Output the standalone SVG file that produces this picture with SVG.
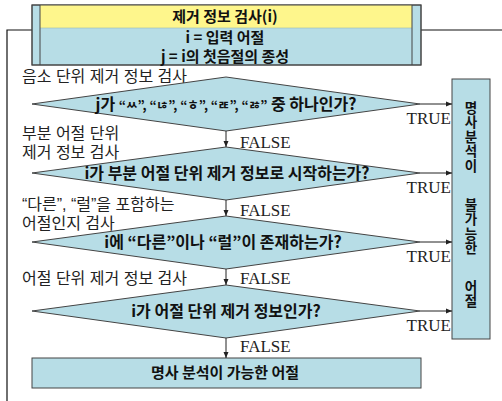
<svg xmlns="http://www.w3.org/2000/svg" width="502" height="401" viewBox="0 0 502 401">
<defs>
<marker id="ah" markerWidth="6" markerHeight="6" refX="6" refY="3" orient="auto" markerUnits="userSpaceOnUse">
<path d="M0,0.5 L6,3 L0,5.5 z" fill="#222"/>
</marker>
<style>
.box{fill:#b7dde6;stroke:#444;stroke-width:1}
.dia{fill:#b7dde6;stroke:#444;stroke-width:1}
.frame{fill:none;stroke:#111;stroke-width:1.2}
.conn{stroke:#222;stroke-width:1;fill:none;marker-end:url(#ah)}
.kb{font-family:"Noto Sans CJK KR","Noto Sans",sans-serif;font-weight:bold;font-size:15px;fill:#111;text-anchor:middle}
.kd{font-size:16px}
.vt{font-family:"Noto Sans CJK KR","Noto Sans",sans-serif;font-weight:bold;font-size:13.5px;fill:#111;writing-mode:vertical-rl;text-orientation:upright;letter-spacing:1px}
.lab{font-family:"Liberation Sans","Noto Sans CJK KR",sans-serif;font-size:16px;fill:#222}
.tf{font-family:"Liberation Serif",serif;font-size:17px;fill:#222}
.jm{font-size:12.5px}
</style>
</defs>
<rect width="502" height="401" fill="#ffffff"/>
<g id="frame">
<path class="frame" d="M7,401 V30 H32 M421,30 H502"/>
</g>
<g id="header">
<rect class="box" x="32" y="5" width="389" height="60"/>
<rect x="40" y="5" width="372" height="23" fill="#fef68c"/>
<line x1="40" y1="28" x2="412" y2="28" stroke="#9bb" stroke-width="0.6"/>
<line x1="40" y1="5" x2="40" y2="65" stroke="#444"/>
<line x1="412" y1="5" x2="412" y2="65" stroke="#444"/>
<rect x="32" y="5" width="389" height="60" fill="none" stroke="#444"/>
<text class="kb" x="225" y="22">제거 정보 검사(i)</text>
<text class="kb" x="225" y="43">i = 입력 어절</text>
<text class="kb" x="225" y="62">j = i의 첫음절의 종성</text>
</g>
<g id="labels">
<text class="lab" x="22" y="82">음소 단위 제거 정보 검사</text>
<text class="lab" x="22" y="139">부분 어절 단위</text>
<text class="lab" x="22" y="158">제거 정보 검사</text>
<text class="lab" x="22" y="210">“다른”, “럴”을 포함하는</text>
<text class="lab" x="22" y="229">어절인지 검사</text>
<text class="lab" x="22" y="284">어절 단위 제거 정보 검사</text>
</g>
<g id="d1">
<polygon class="dia" points="32,104 226,77 420,104 226,131"/>
<text class="kb kd" x="226" y="110">j가 <tspan class="jm">“ㅆ”, “ㄶ”, “ㅎ”, “ㄾ”, “ㅀ”</tspan> 중 하나인가?</text>
</g>
<g id="d2">
<polygon class="dia" points="32,173 226,147 420,173 226,200"/>
<text class="kb kd" x="227" y="179">i가 부분 어절 단위 제거 정보로 시작하는가?</text>
</g>
<g id="d3">
<polygon class="dia" points="32,242 226,216 420,242 226,269"/>
<text class="kb kd" x="223" y="248">i에 “다른”이나 “럴”이 존재하는가?</text>
</g>
<g id="d4">
<polygon class="dia" points="32,311 226,285 420,311 226,338"/>
<text class="kb kd" x="226" y="317">i가 어절 단위 제거 정보인가?</text>
</g>
<g id="noun-impossible">
<rect class="box" x="452" y="79" width="38" height="260"/>
<text class="vt" x="471" y="101">명사분석이</text>
<text class="vt" x="471" y="198">불가능한</text>
<text class="vt" x="471" y="280">어절</text>
</g>
<g id="noun-possible">
<rect class="box" x="32" y="358" width="389" height="30"/>
<text class="kb" x="225" y="378">명사 분석이 가능한 어절</text>
</g>
<g id="connectors">
<line class="conn" x1="226" y1="131" x2="226" y2="147"/>
<line class="conn" x1="226" y1="200" x2="226" y2="216"/>
<line class="conn" x1="226" y1="269" x2="226" y2="285"/>
<line class="conn" x1="226" y1="338" x2="226" y2="358"/>
<line class="conn" x1="420" y1="104" x2="452" y2="104"/>
<line class="conn" x1="420" y1="173" x2="452" y2="173"/>
<line class="conn" x1="420" y1="242" x2="452" y2="242"/>
<line class="conn" x1="420" y1="311" x2="452" y2="311"/>
<text class="tf" x="240" y="148">FALSE</text>
<text class="tf" x="240" y="216">FALSE</text>
<text class="tf" x="240" y="284">FALSE</text>
<text class="tf" x="240" y="352">FALSE</text>
<text class="tf" x="451" y="124" text-anchor="end">TRUE</text>
<text class="tf" x="451" y="193" text-anchor="end">TRUE</text>
<text class="tf" x="451" y="262" text-anchor="end">TRUE</text>
<text class="tf" x="451" y="331" text-anchor="end">TRUE</text>
</g>
</svg>
